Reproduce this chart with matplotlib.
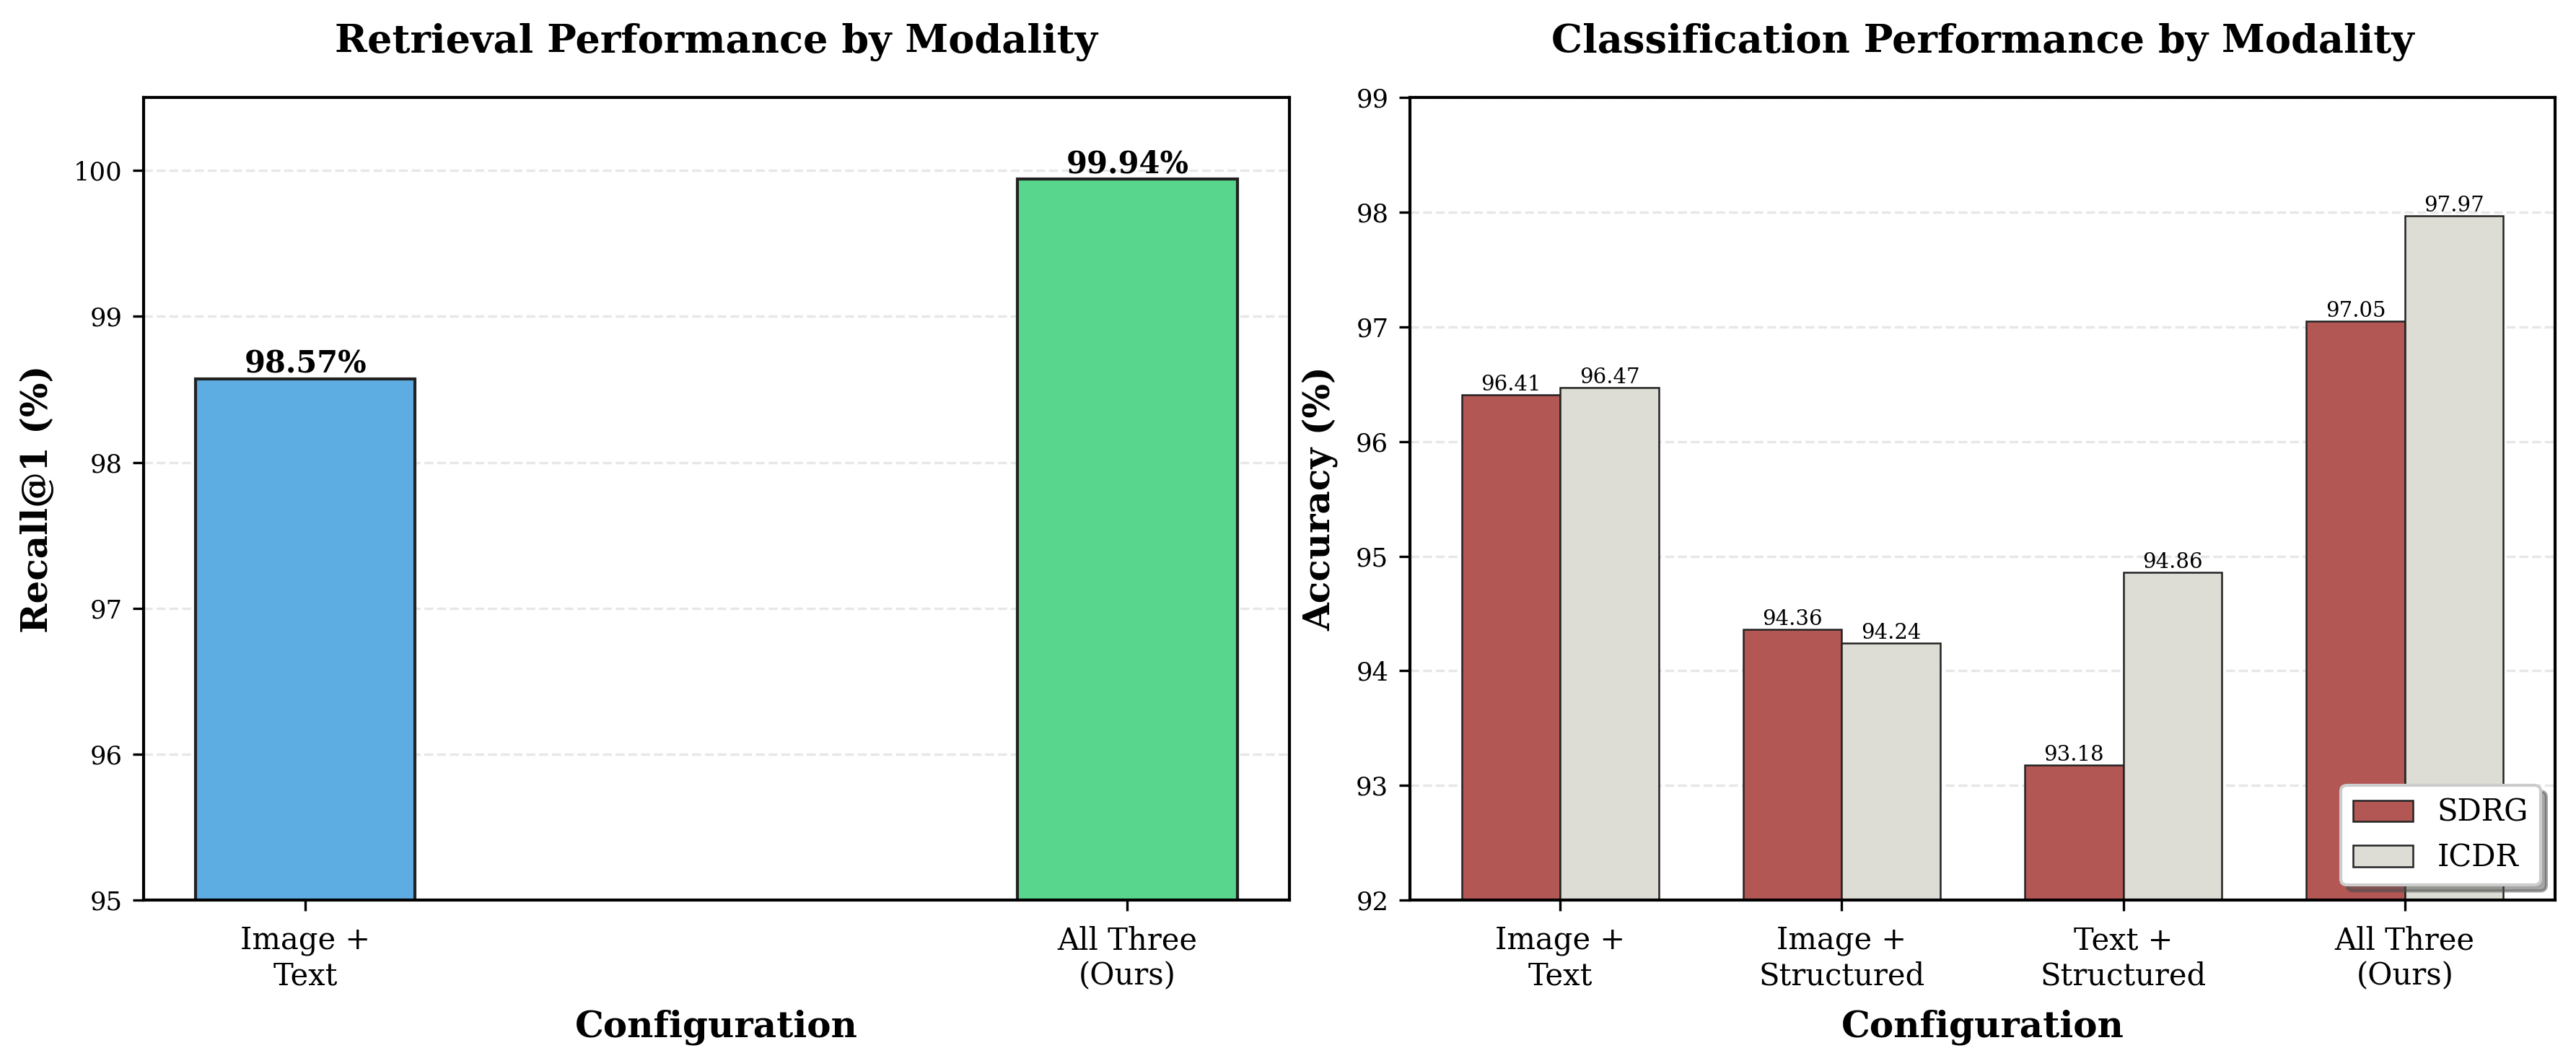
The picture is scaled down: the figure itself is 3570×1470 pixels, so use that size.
import matplotlib
matplotlib.use('Agg')
import matplotlib.pyplot as plt
import numpy as np

plt.rcParams['font.family'] = 'DejaVu Serif'

# retrieval data
ret_labels = ['Image +\nText', 'All Three\n(Ours)']
ret_values = [98.57, 99.94]
ret_colors = ['#5DADE2', '#58D68D']

# classification data
cls_labels = ['Image +\nText', 'Image +\nStructured', 'Text +\nStructured', 'All Three\n(Ours)']
sdrg = [96.41, 94.36, 93.18, 97.05]
icdr = [96.47, 94.24, 94.86, 97.97]

fig, (ax1, ax2) = plt.subplots(1, 2, figsize=(11.9, 4.9))
fig.subplots_adjust(left=0.0557, right=0.992, bottom=0.1517, top=0.908, wspace=0.105)

x1 = np.arange(len(ret_labels))
bars = ax1.bar(x1, ret_values, width=0.267, color=ret_colors, edgecolor='#222222', linewidth=1.0)
for b, v in zip(bars, ret_values):
    ax1.text(b.get_x() + b.get_width() / 2, v, f'{v:.2f}%', ha='center', va='bottom',
             fontsize=10, fontweight='bold')
ax1.set_ylim(95, 100.5)
ax1.set_xticks(x1)
ax1.set_xticklabels(ret_labels, fontsize=10)
ax1.set_ylabel('Recall@1 (%)', fontsize=12, fontweight='bold', labelpad=6)
ax1.set_xlabel('Configuration', fontsize=12, fontweight='bold', labelpad=6)
ax1.set_title('Retrieval Performance by Modality', fontsize=13, fontweight='bold', pad=15)
ax1.grid(axis='y', linestyle='--', alpha=0.3)
ax1.set_axisbelow(True)
ax1.tick_params(axis='y', labelsize=8.5)
ax1.tick_params(axis='x', pad=5)

x2 = np.arange(len(cls_labels))
w = 0.35
b1 = ax2.bar(x2 - w / 2, sdrg, w, label='SDRG', color='#B35755', edgecolor='#222222', linewidth=0.6)
b2 = ax2.bar(x2 + w / 2, icdr, w, label='ICDR', color='#DDDDD5', edgecolor='#222222', linewidth=0.6)
for bs, vals in [(b1, sdrg), (b2, icdr)]:
    for b, v in zip(bs, vals):
        ax2.text(b.get_x() + b.get_width() / 2, v, f'{v:.2f}', ha='center', va='bottom', fontsize=7)
ax2.set_ylim(92, 99)
ax2.set_xticks(x2)
ax2.set_xticklabels(cls_labels, fontsize=10)
ax2.set_ylabel('Accuracy (%)', fontsize=12, fontweight='bold', labelpad=6)
ax2.set_xlabel('Configuration', fontsize=12, fontweight='bold', labelpad=6)
ax2.set_title('Classification Performance by Modality', fontsize=13, fontweight='bold', pad=15)
ax2.grid(axis='y', linestyle='--', alpha=0.3)
ax2.set_axisbelow(True)
ax2.tick_params(axis='y', labelsize=8.5)
ax2.tick_params(axis='x', pad=5)
ax2.legend(loc='lower right', fontsize=10, frameon=True, shadow=True, fancybox=True)

for ax in (ax1, ax2):
    for s in ax.spines.values():
        s.set_linewidth(1.0)

plt.savefig('out.png', dpi=300)
